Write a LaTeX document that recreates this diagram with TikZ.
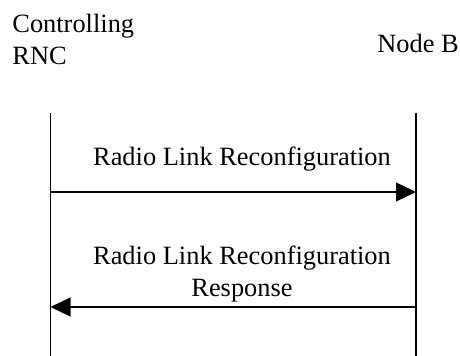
\documentclass[tikz,border=0pt]{standalone}
\usepackage{fontspec}
\setmainfont{Liberation Serif}
\usetikzlibrary{arrows.meta}
\tikzset{
  lbl/.style={inner sep=0pt, font=\fontsize{13.2}{16}\selectfont},
  msg/.style={line width=0.6pt, -{Triangle[length=10pt,width=9.5pt]}},
  life/.style={line width=0.6pt}
}
\begin{document}
\begin{tikzpicture}[x=0.5pt, y=-0.5pt]
      \useasboundingbox (0,0) rectangle (460,356);
      \draw
        (12,65) node[lbl, anchor=base west, align=left] (ctrl){Controlling\\RNC}
        (418,53) node[lbl, anchor=base] (nodeb){Node B}
        (242,166) node[lbl, anchor=base] (req){Radio Link Reconfiguration}
        (242,297) node[lbl, anchor=base, align=center] (resp){Radio Link Reconfiguration\\Response};
      \coordinate (rnctop) at (50.5,113);
      \coordinate (rncbot) at (50.5,356);
      \coordinate (nbtop) at (416,113);
      \coordinate (nbbot) at (416,356);
      \coordinate (rnc1) at (50.5,192);
      \coordinate (nb1) at (416,192);
      \coordinate (rnc2) at (50.5,307);
      \coordinate (nb2) at (416,307);
      \begin{scope}[life]
        \draw (rnctop) to (rncbot);
        \draw (nbtop) to (nbbot);
      \end{scope}
      \draw[msg] (rnc1) to (nb1);
      \draw[msg] (nb2) to (rnc2);
    \end{tikzpicture}
\end{document}
